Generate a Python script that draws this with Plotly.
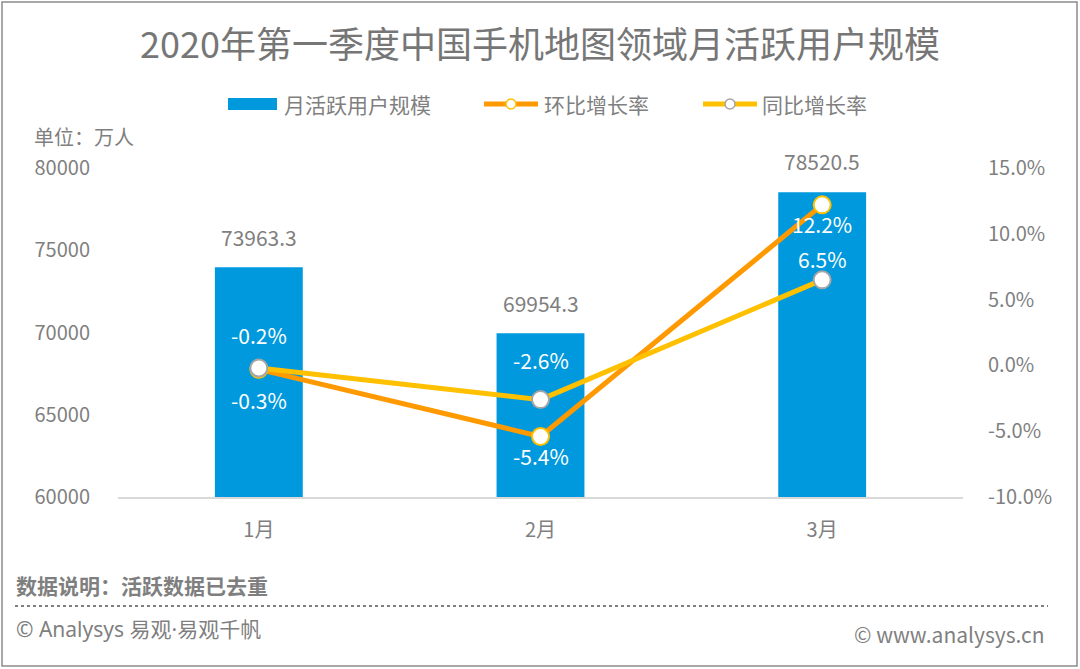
import plotly.graph_objects as go

W, H = 1080, 669
L, R, T, B = 118, 117, 168, 172

months = ["1月", "2月", "3月"]
mau = [73963.3, 69954.3, 78520.5]          # 月活跃用户规模 (万人)
mom = [-0.3, -5.4, 12.2]                   # 环比增长率 (%)
yoy = [-0.2, -2.6, 6.5]                    # 同比增长率 (%)
pct_ticks = [-10, -5, 0, 5, 10, 15]        # 右轴刻度 (%)

GREY = "#7F7F7F"
BLUE = "#0099DD"
ORANGE = "#FF9900"
YELLOW = "#FFC000"
FONT = "Noto Sans CJK SC"

# label offsets in px (positive = up)
mau_shift = [30, 30, 31]
mom_shift = [-31, -20, -19]
yoy_shift = [33, 40, 21]


def px(x):
    return (x - L) / (W - L - R)


def py(y):
    return (H - B - y) / (H - T - B)


fig = go.Figure()
fig.add_trace(go.Bar(
    x=months, y=mau, name="月活跃用户规模",
    marker=dict(color=BLUE, line=dict(width=0)),
    width=0.312,
))
fig.add_trace(go.Scatter(
    x=months, y=mom, name="环比增长率", yaxis="y2",
    mode="lines+markers",
    line=dict(color=ORANGE, width=5),
    marker=dict(size=17, color="white", line=dict(color=YELLOW, width=2)),
    cliponaxis=False,
))
fig.add_trace(go.Scatter(
    x=months, y=yoy, name="同比增长率", yaxis="y2",
    mode="lines+markers",
    line=dict(color=YELLOW, width=5),
    marker=dict(size=17, color="white", line=dict(color="#A5A5A5", width=2)),
    cliponaxis=False,
))

# data labels
for m, v, s in zip(months, mau, mau_shift):
    fig.add_annotation(x=m, y=v, xref="x", yref="y", text=f"{v:.1f}", yshift=s,
                       showarrow=False, font=dict(size=21, color=GREY))
for m, v, s in zip(months, mom, mom_shift):
    fig.add_annotation(x=m, y=v, xref="x", yref="y2", text=f"{v:.1f}%", yshift=s,
                       showarrow=False, font=dict(size=21, color="white"))
for m, v, s in zip(months, yoy, yoy_shift):
    fig.add_annotation(x=m, y=v, xref="x", yref="y2", text=f"{v:.1f}%", yshift=s,
                       showarrow=False, font=dict(size=21, color="white"))

fig.update_layout(
    width=W, height=H,
    margin=dict(l=L, r=R, t=T, b=B),
    plot_bgcolor="white", paper_bgcolor="white",
    font=dict(family=FONT, size=20, color=GREY),
    showlegend=False,
    title=dict(text="2020年第一季度中国手机地图领域月活跃用户规模",
               x=0.5, xanchor="center", y=1 - 45 / H, yanchor="middle",
               font=dict(size=36, color="#767676", family=FONT)),
    xaxis=dict(showline=True, linecolor="#D9D9D9", linewidth=2, ticks="",
               showgrid=False, ticklabelstandoff=14, tickfont=dict(size=20)),
    yaxis=dict(range=[60000, 80000], dtick=5000, tickformat="d", showgrid=False,
               zeroline=False, showline=False, ticklabelstandoff=27,
               tickfont=dict(size=20)),
    yaxis2=dict(range=[-10, 15], tickvals=pct_ticks,
                ticktext=[f"{v:.1f}%" for v in pct_ticks],
                overlaying="y", side="right", showgrid=False, zeroline=False,
                showline=False, ticklabelstandoff=24, tickfont=dict(size=20)),
)

# legend drawn by hand
fig.add_shape(type="rect", xref="paper", yref="paper", x0=px(228), x1=px(277),
              y0=py(98), y1=py(110), fillcolor=BLUE, line=dict(width=0))
for x0, x1, color, edge in [(484, 538, ORANGE, YELLOW), (703, 757, YELLOW, "#A5A5A5")]:
    fig.add_shape(type="line", xref="paper", yref="paper", x0=px(x0), x1=px(x1),
                  y0=py(104), y1=py(104), line=dict(color=color, width=5))
    cx = (x0 + x1) / 2
    fig.add_shape(type="circle", xref="paper", yref="paper", x0=px(cx - 5), x1=px(cx + 5),
                  y0=py(99), y1=py(109), fillcolor="white", line=dict(color=edge, width=1.5))
for x, label in [(282, "月活跃用户规模"), (542, "环比增长率"), (760, "同比增长率")]:
    fig.add_annotation(text=label, xref="paper", yref="paper", x=px(x), y=py(104),
                       xanchor="left", yanchor="middle", showarrow=False,
                       font=dict(size=21, color=GREY))

fig.add_annotation(text="单位：万人", xref="paper", yref="paper", x=px(32), y=py(136),
                   xanchor="left", yanchor="middle", showarrow=False,
                   font=dict(size=20, color=GREY))
fig.add_annotation(text="<b>数据说明：活跃数据已去重</b>", xref="paper", yref="paper",
                   x=px(14), y=py(585), xanchor="left", yanchor="middle", showarrow=False,
                   font=dict(size=21, color=GREY))
fig.add_annotation(text="© Analysys 易观·易观千帆", xref="paper", yref="paper",
                   x=px(14), y=py(629), xanchor="left", yanchor="middle", showarrow=False,
                   font=dict(size=21, color=GREY, family="Noto Sans, Noto Sans CJK SC"))
fig.add_annotation(text="© www.analysys.cn", xref="paper", yref="paper",
                   x=px(1047), y=py(634), xanchor="right", yanchor="middle", showarrow=False,
                   font=dict(size=21, color=GREY))

# dotted separator and outer frame
fig.add_shape(type="line", xref="paper", yref="paper", x0=px(15), x1=px(1048),
              y0=py(606), y1=py(606), line=dict(color=GREY, width=2, dash="dot"))
fig.add_shape(type="rect", xref="paper", yref="paper", x0=px(2), x1=px(1077),
              y0=py(2), y1=py(666), line=dict(color="#8C8C8C", width=1.5))

fig.write_html("out.html", config={"displayModeBar": False},
               post_script="document.body.style.margin='0';")
